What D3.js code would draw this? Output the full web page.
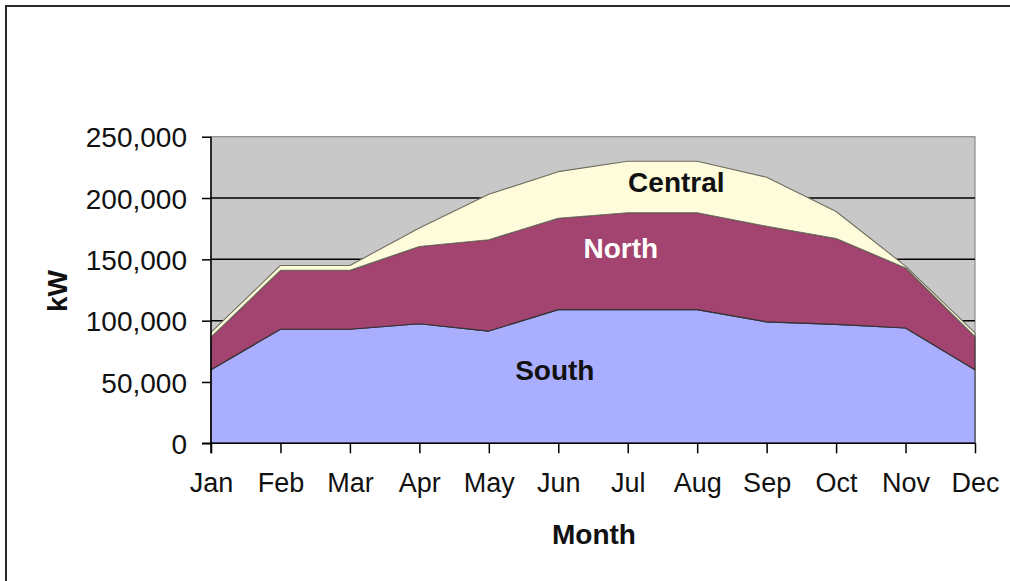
<!DOCTYPE html>
<html>
<head>
<meta charset="utf-8">
<script src="https://cdn.jsdelivr.net/npm/d3@7/dist/d3.min.js"></script>
<style>
  html, body { margin: 0; padding: 0; background: #fff; }
  svg { display: block; font-family: "Liberation Sans", Arial, sans-serif; }
</style>
</head>
<body>
<svg id="chart" width="1010" height="581"></svg>
<script>
// ---- data ----
const months = ["Jan","Feb","Mar","Apr","May","Jun","Jul","Aug","Sep","Oct","Nov","Dec"];
const south   = [60000, 93000, 93000, 97500, 91500, 109000, 109000, 109000, 99000, 97000, 94000, 60000];
const north   = [26500, 48000, 48000, 63000, 74500, 74500, 79000, 79000, 78000, 70000, 49000, 27000];
const central = [4000, 4000, 4000, 15000, 37000, 38000, 42000, 42000, 40000, 22000, 1500, 3000];
const seriesNames = ["South", "North", "Central"];
const yTicks = [0, 50000, 100000, 150000, 200000, 250000];

// ---- layout ----
const svg = d3.select("#chart");
const X0 = 211, X1 = 975, Y0 = 443.3, Y1 = 136.7;
const colors = { South: "#aaaeff", North: "#a34370", Central: "#fffcdc" };

const x = d3.scalePoint().domain(months).range([X0, X1]).padding(0);
const y = d3.scaleLinear().domain([0, 250000]).range([Y0, Y1]);

// outer frame
svg.append("path").attr("d", "M6,581V6H1010").attr("fill", "none")
  .attr("stroke", "#2a2a2a").attr("stroke-width", 2);

// plot background
svg.append("rect").attr("x", X0).attr("y", Y1).attr("width", X1 - X0).attr("height", Y0 - Y1)
  .attr("fill", "#c8c8c8").attr("stroke", "#8c8c8c").attr("stroke-width", 1.2);

// gridlines
svg.append("g").selectAll("line").data(yTicks.filter(t => t > 0 && t < 250000)).join("line")
  .attr("x1", X0).attr("x2", X1).attr("y1", d => y(d)).attr("y2", d => y(d))
  .attr("stroke", "#000").attr("stroke-width", 1.5);

// stacked areas
const table = months.map((m, i) => ({ month: m, South: south[i], North: north[i], Central: central[i] }));
const stack = d3.stack().keys(seriesNames).order(d3.stackOrderNone).offset(d3.stackOffsetNone);
const layers = stack(table);
const area = d3.area().x(d => x(d.data.month)).y0(d => y(d[0])).y1(d => y(d[1]));
svg.append("g").selectAll("path").data(layers).join("path")
  .attr("d", area)
  .attr("fill", d => colors[d.key])
  .attr("stroke", d => d.key === "Central" ? "#6e6e60" : "#333")
  .attr("stroke-width", 1.1)
  .attr("stroke-linejoin", "round");

// axes
const yAxis = d3.axisLeft(y).tickValues(yTicks).tickSize(9).tickPadding(15)
  .tickFormat(d3.format(","));
const gy = svg.append("g").attr("transform", `translate(${X0},0)`).call(yAxis);
gy.select(".domain").attr("d", `M0,${Y1}V${Y0 + 10}`).attr("stroke", "#000").attr("stroke-width", 1.5);
gy.selectAll(".tick line").attr("stroke", "#000").attr("stroke-width", 1.5);
gy.selectAll(".tick text").attr("font-size", 28).attr("fill", "#111")
  .attr("font-family", "Liberation Sans, Arial, sans-serif").attr("dy", "0.36em");

const xAxis = d3.axisBottom(x).tickSize(10).tickPadding(20);
const gx = svg.append("g").attr("transform", `translate(0,${Y0})`).call(xAxis);
gx.select(".domain").attr("d", `M${X0 - 9},0H${X1}`).attr("stroke", "#000").attr("stroke-width", 1.5);
gx.selectAll(".tick line").attr("stroke", "#000").attr("stroke-width", 1.5);
gx.selectAll(".tick text").attr("font-size", 27).attr("fill", "#111")
  .attr("font-family", "Liberation Sans, Arial, sans-serif").attr("dy", "0.71em");

// axis titles
svg.append("text").attr("x", (X0 + X1) / 2 + 1).attr("y", 544).attr("text-anchor", "middle")
  .attr("font-size", 28).attr("font-weight", "bold").attr("fill", "#111").text("Month");
svg.append("text").attr("transform", "translate(67,291) rotate(-90)").attr("text-anchor", "middle")
  .attr("font-size", 28).attr("font-weight", "bold").attr("fill", "#111").text("kW");

// series labels (placed in data space)
const labelSpots = [
  { name: "Central", at: 6.7, value: 205000, fill: "#111" },
  { name: "North",   at: 5.9, value: 150800, fill: "#fff" },
  { name: "South",   at: 4.95, value: 51600, fill: "#111" }
];
const step = x.step();
svg.append("g").selectAll("text").data(labelSpots).join("text")
  .attr("x", d => X0 + d.at * step).attr("y", d => y(d.value))
  .attr("text-anchor", "middle").attr("font-size", 28).attr("font-weight", "bold")
  .attr("fill", d => d.fill).text(d => d.name);
</script>
</body>
</html>
